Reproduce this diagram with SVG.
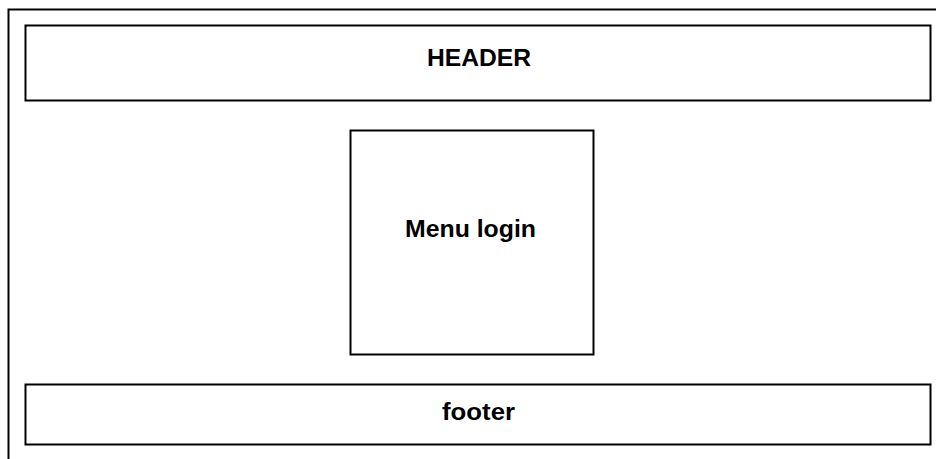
<svg xmlns="http://www.w3.org/2000/svg" width="936" height="459" viewBox="0 0 936 459">
  <style>
    .box { fill: #ffffff; stroke: #000000; stroke-width: 2; }
    .frame { fill: none; stroke: #000000; stroke-width: 2; }
    .label { font-family: "Liberation Sans", Arial, sans-serif; font-weight: bold; font-size: 24px; fill: #000000; text-anchor: middle; }
  </style>
  <rect width="936" height="459" fill="#ffffff"/>
  <!-- page frame: top and left edges -->
  <g id="page-frame">
    <path class="frame" d="M8.5,459 V9.5 H936"/>
  </g>
  <g id="header">
    <rect class="box" x="25.5" y="25.5" width="905" height="75"/>
    <text class="label" x="479" y="66" textLength="104" lengthAdjust="spacingAndGlyphs">HEADER</text>
  </g>
  <g id="menu-login">
    <rect class="box" x="350.5" y="130.5" width="243" height="224"/>
    <text class="label" x="470.5" y="237" textLength="131" lengthAdjust="spacingAndGlyphs">Menu login</text>
  </g>
  <g id="footer">
    <rect class="box" x="25.5" y="384.5" width="905" height="60"/>
    <text class="label" x="478.5" y="420" textLength="73" lengthAdjust="spacingAndGlyphs">footer</text>
  </g>
  <g id="connectors"></g>
</svg>
